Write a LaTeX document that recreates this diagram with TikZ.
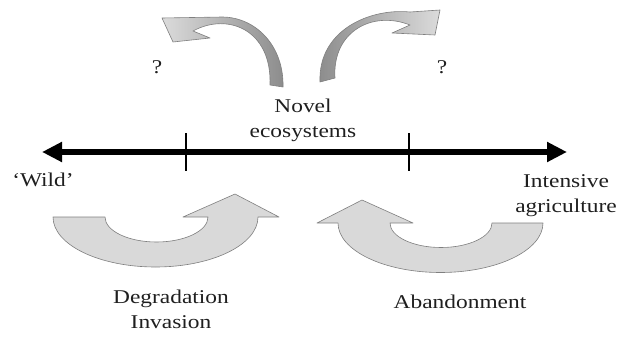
\documentclass[tikz,border=0pt]{standalone}
\usepackage{fontspec}
\setmainfont{Liberation Serif}[FakeStretch=1.2]
\usetikzlibrary{arrows.meta}
\definecolor{bandfill}{HTML}{D9D9D9}
\definecolor{bandline}{HTML}{7F7F7F}
\tikzset{
  lbl/.style={inner sep=0pt, font=\fontsize{19.5}{25}\selectfont, text=black!88, align=center},
  bigarrow/.style={draw=bandline, line width=0.6pt, fill=bandfill, line join=round},
  toparrow/.style={draw=bandline, line width=0.6pt, line join=round},
  axisline/.style={line width=5.5pt, {Triangle[length=20pt,width=19pt]}-{Triangle[length=20pt,width=19pt]}},
  tickline/.style={line width=2pt}
}
\begin{document}
\begin{tikzpicture}[x=1pt,y=-1pt]
\useasboundingbox (0,0) rectangle (629,340);
% axis
\coordinate (wildend) at (42,152);
\coordinate (agriend) at (567,152);
\coordinate (t1a) at (186,133); \coordinate (t1b) at (186,171);
\coordinate (t2a) at (409,133); \coordinate (t2b) at (409,171);
\draw[axisline] (wildend) -- (agriend);
\draw[tickline] (t1a) -- (t1b);
\draw[tickline] (t2a) -- (t2b);
% top-left curved arrow
\path[toparrow, left color=black!14, right color=black!45]
  (283,87) .. controls (284,45) and (255,17) .. (222,17)
  -- (162,18) -- (173,42) -- (210,38) -- (193,31)
  .. controls (228,12) and (272,30) .. (270,85) -- cycle;
% top-right curved arrow
\path[toparrow, left color=black!45, right color=black!14]
  (320,82) .. controls (318,30) and (370,8) .. (410,12)
  -- (440,10) -- (435,35) -- (392,33) -- (410,25)
  .. controls (372,10) and (332,32) .. (335,78) -- cycle;
% bottom-left arrow (degradation)
\path[bigarrow]
  (53,217) -- (105,217)
  arc[start angle=180, end angle=0, x radius=51.5, y radius=25]
  -- (183,217) -- (235,194) -- (279,217) -- (258,217)
  arc[start angle=0, end angle=180, x radius=102.5, y radius=50] -- cycle;
% bottom-right arrow (abandonment)
\path[bigarrow]
  (543,223) -- (492,223)
  arc[start angle=0, end angle=180, x radius=51, y radius=24.5]
  -- (413,223) -- (362,200) -- (317,223) -- (338,223)
  arc[start angle=180, end angle=0, x radius=102.5, y radius=49.5] -- cycle;
% labels
\node[lbl, anchor=base] (wild) at (43,186) {`Wild'};
\node[lbl, anchor=base] (qleft) at (157,73) {?};
\node[lbl, anchor=base] (qright) at (442,73) {?};
\node[lbl, anchor=north] (novel) at (303,98.5) {Novel\\ecosystems};
\node[lbl, anchor=north] (intensive) at (566,174.5) {Intensive\\agriculture};
\node[lbl, anchor=north] (degr) at (171,290) {Degradation\\Invasion};
\node[lbl, anchor=base] (aband) at (460,308) {Abandonment};
\end{tikzpicture}
\end{document}
